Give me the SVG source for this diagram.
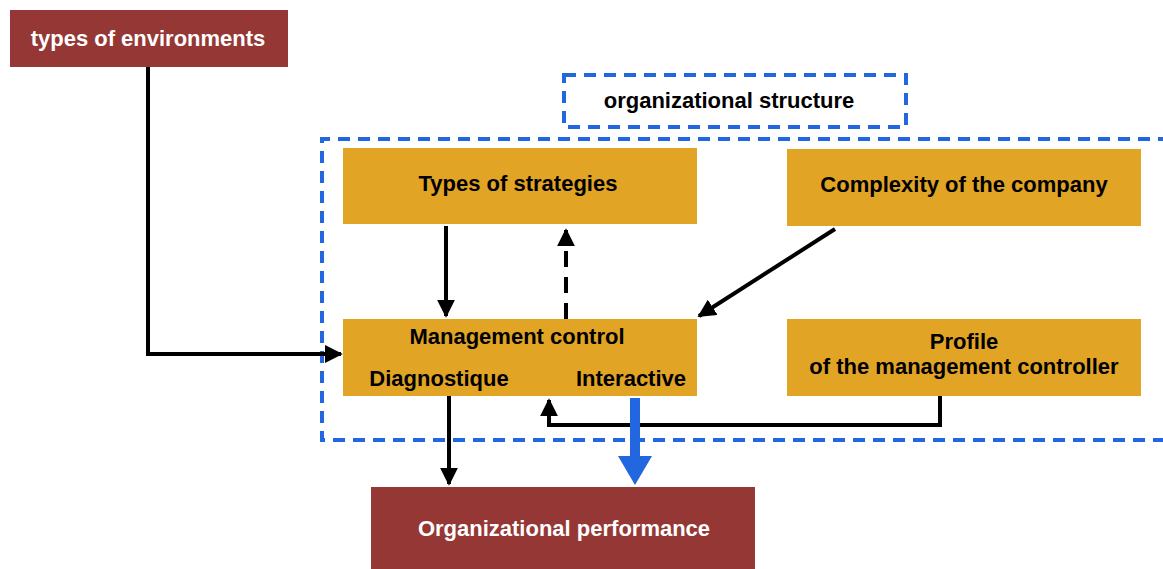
<svg xmlns="http://www.w3.org/2000/svg" width="1163" height="569" viewBox="0 0 1163 569">
<style>
.red{fill:#953735;}
.org{fill:#e2a424;}
.lbl{font-family:"Liberation Sans",Arial,sans-serif;font-weight:bold;font-size:22px;fill:#000;text-anchor:middle;}
.wlbl{font-family:"Liberation Sans",Arial,sans-serif;font-weight:bold;font-size:22px;fill:#fff;text-anchor:middle;}
.dash{fill:none;stroke:#2266e0;stroke-width:4;stroke-dasharray:12,8;}
.k{fill:none;stroke:#000;stroke-width:4;}
</style>
<defs>
<marker id="ah" viewBox="0 0 10 10" refX="9" refY="5" markerWidth="4.5" markerHeight="4.5" orient="auto" markerUnits="strokeWidth">
<path d="M0,0 L10,5 L0,10 z" fill="#000"/>
</marker>
</defs>
<g id="structure">
<rect class="dash" x="564" y="75" width="342" height="52"/>
<text class="lbl" x="729" y="108">organizational structure</text>
<path class="dash" d="M1170,139 H322 V440 H1170"/>
</g>
<g id="env">
<rect class="red" x="10" y="10" width="278" height="57"/>
<text class="wlbl" x="148" y="46">types of environments</text>
</g>
<g id="strategies">
<rect class="org" x="343" y="148" width="354" height="76"/>
<text class="lbl" x="518" y="191">Types of strategies</text>
</g>
<g id="complexity">
<rect class="org" x="787" y="149" width="354" height="77"/>
<text class="lbl" x="964" y="192">Complexity of the company</text>
</g>
<g id="mgmt">
<rect class="org" x="343" y="319" width="354" height="77"/>
<text class="lbl" x="517" y="344">Management control</text>
<text class="lbl" x="439" y="386">Diagnostique</text>
<text class="lbl" x="631" y="386">Interactive</text>
</g>
<g id="profile">
<rect class="org" x="787" y="319" width="354" height="77"/>
<text class="lbl" x="964" y="349">Profile</text>
<text class="lbl" x="964" y="374">of the management controller</text>
</g>
<g id="perf">
<rect class="red" x="371" y="487" width="384" height="90"/>
<text class="wlbl" x="564" y="536">Organizational performance</text>
</g>
<g id="connectors">
<path class="k" d="M148,67 V354 H341" marker-end="url(#ah)"/>
<path class="k" d="M446,226 V316" marker-end="url(#ah)"/>
<path class="k" d="M566,319 V230" stroke-dasharray="16,10" marker-end="url(#ah)"/>
<path class="k" d="M835,229 L699,316" marker-end="url(#ah)"/>
<path class="k" d="M940,396 V425 H549 V400" marker-end="url(#ah)"/>
<path class="k" d="M449,396 V484" marker-end="url(#ah)"/>
<path d="M630,398 H640 V456 H652 L635,485 L618,456 H630 Z" fill="#2266e0"/>
</g>
</svg>
